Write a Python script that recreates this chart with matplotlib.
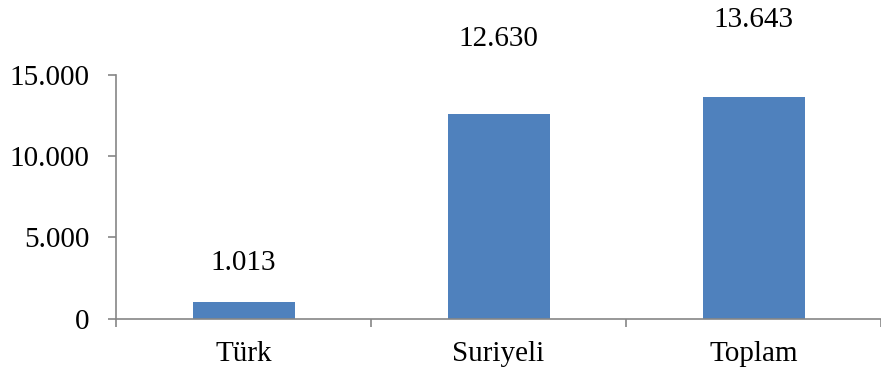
import matplotlib
matplotlib.use("Agg")
import matplotlib.pyplot as plt
from matplotlib.ticker import FuncFormatter, FixedLocator

plt.rcParams["font.family"] = ["Liberation Serif", "DejaVu Serif"]

categories = ["Türk", "Suriyeli", "Toplam"]
values = [1013, 12630, 13643]
y_ticks = [0, 5000, 10000, 15000]

# label offsets above bar tops, in points (the source chart places them unevenly)
label_offsets = [28.5, 53.5, 55.5]

BAR_COLOR = "#4F81BD"
AXIS_COLOR = "#868686"
FS = 21


def tr_thousands(v, _pos=None):
    return f"{int(round(v)):,}".replace(",", ".")


fig = plt.figure(figsize=(8.81, 3.74), dpi=100)
ax = fig.add_axes([116 / 881, 55.3 / 374, 1 - 116 / 881, 243.7 / 374])

x = list(range(len(categories)))
bars = ax.bar(x, values, width=0.40, color=BAR_COLOR, zorder=2)

for rect, val, off in zip(bars, values, label_offsets):
    ax.annotate(
        tr_thousands(val),
        (rect.get_x() + rect.get_width() / 2, rect.get_height()),
        xytext=(0, off),
        textcoords="offset points",
        ha="center",
        va="center",
        fontsize=FS,
        annotation_clip=False,
    )

ax.set_xlim(-0.5, len(categories) - 0.5)
ax.set_ylim(0, 15000)
ax.set_yticks(y_ticks)
ax.yaxis.set_major_formatter(FuncFormatter(tr_thousands))

ax.set_xticks(x)
ax.set_xticklabels(categories)
ax.xaxis.set_minor_locator(FixedLocator([i - 0.5 for i in range(len(categories) + 1)]))

for side in ("top", "right"):
    ax.spines[side].set_visible(False)
for side in ("left", "bottom"):
    ax.spines[side].set_color(AXIS_COLOR)
    ax.spines[side].set_linewidth(1.2)

ax.tick_params(axis="y", which="major", length=6, width=1.2, color=AXIS_COLOR,
               labelsize=FS, pad=13)
ax.tick_params(axis="x", which="major", length=0, labelsize=FS, pad=16)
ax.tick_params(axis="x", which="minor", length=6, width=1.2, color=AXIS_COLOR)

fig.savefig("out.png", dpi=100)
